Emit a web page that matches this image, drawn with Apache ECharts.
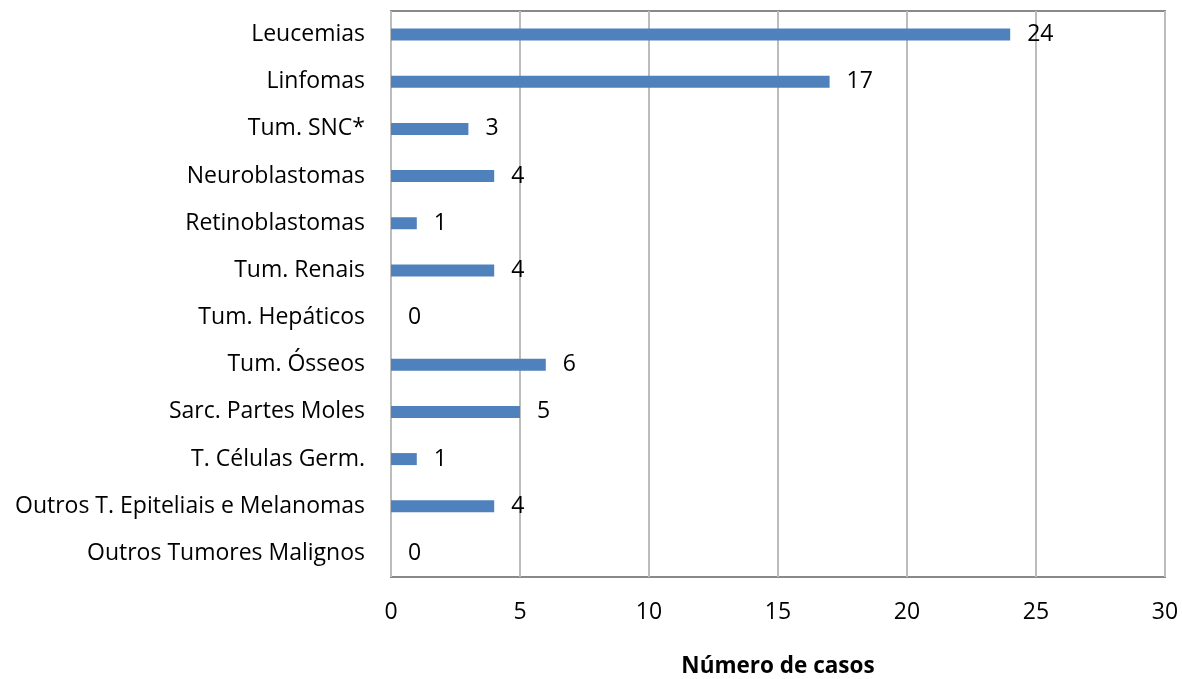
<!DOCTYPE html>
<html>
<head>
<meta charset="utf-8">
<script src="https://cdn.jsdelivr.net/npm/echarts@6/dist/echarts.min.js"></script>
<style>html,body{margin:0;padding:0;background:#fff;overflow:hidden;width:100%;height:100%}#c{width:1182px;height:679px}</style>
</head>
<body>
<div id="c"></div>
<script>
var categories = ["Leucemias","Linfomas","Tum. SNC*","Neuroblastomas","Retinoblastomas","Tum. Renais","Tum. Hepáticos","Tum. Ósseos","Sarc. Partes Moles","T. Células Germ.","Outros T. Epiteliais e Melanomas","Outros Tumores Malignos"];
var values = [24,17,3,4,1,4,0,6,5,1,4,0];
var xTicks = [0,5,10,15,20,25,30];
var font = "Open Sans";
var chart = echarts.init(document.getElementById('c'));
chart.setOption({
  animation:false,
  grid:{left:391,right:17,top:11,bottom:102,containLabel:false,outerBoundsMode:'none',show:true,borderColor:'#898989',borderWidth:2,backgroundColor:'transparent'},
  xAxis:{type:'value',min:0,max:30,interval:5,
    name:'Número de casos',nameLocation:'middle',nameGap:90,nameMoveOverlap:false,
    nameTextStyle:{fontFamily:font,fontSize:22.5,fontWeight:'bold',color:'#000',verticalAlign:'middle'},
    axisLine:{show:false},axisTick:{show:false},
    axisLabel:{fontFamily:font,fontSize:23,color:'#000',margin:24,formatter:function(v){return xTicks.indexOf(v)>=0?String(v):'';}},
    splitLine:{show:true,lineStyle:{color:'#bcbcbc',width:2}}},
  yAxis:{type:'category',data:categories,inverse:true,
    axisLine:{show:false},axisTick:{show:false},splitLine:{show:false},
    axisLabel:{fontFamily:font,fontSize:23,color:'#000',margin:26}},
  series:[{type:'bar',data:values,barWidth:12,itemStyle:{color:'#4f81bd'},
    label:{show:true,position:'right',distance:17,fontFamily:font,fontSize:23,color:'#000'}}]
});
</script>
</body>
</html>
